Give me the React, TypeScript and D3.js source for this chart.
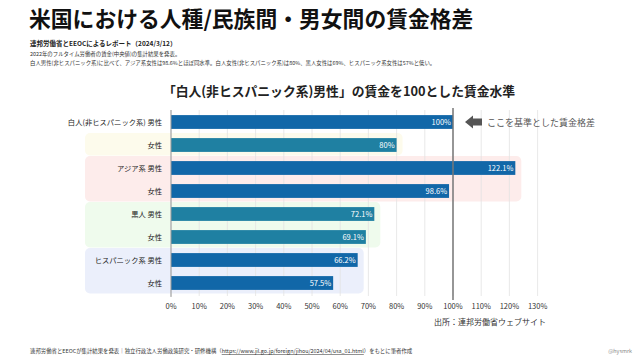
import React from "react";
import * as d3 from "d3";

const categories = [
  "白人(非ヒスパニック系) 男性",
  "女性",
  "アジア系 男性",
  "女性",
  "黒人 男性",
  "女性",
  "ヒスパニック系 男性",
  "女性",
];
const values = [100, 80, 122.1, 98.6, 72.1, 69.1, 66.2, 57.5];
const valueLabels = ["100%", "80%", "122.1%", "98.6%", "72.1%", "69.1%", "66.2%", "57.5%"];
const barColorKeys = ["blue", "teal", "blue", "blue", "teal", "teal", "blue", "blue"];
const xTicks = [0, 10, 20, 30, 40, 50, 60, 70, 80, 90, 100, 110, 120, 130];
const groupStart = [1, 2, 4, 6];
const groupEnd = [1, 3, 5, 7];
const groupColor = ["#fdfbec", "#fdeceb", "#effbed", "#ebeffb"];

const FONT = "'Noto Sans CJK JP', 'Noto Sans', sans-serif";

export default function App() {
  const W = 640, H = 360;
  const x = d3.scaleLinear().domain([0, 130]).range([171, 537.6]);
  const y = d3.scaleBand<number>().domain(d3.range(categories.length)).range([110.5, 294.5]).paddingInner(0.4).paddingOuter(0.2);
  const bw = y.bandwidth();
  const step = y.step();
  const colors: Record<string, string> = { blue: "#1167a8", teal: "#1f80a2" };

  return (
    <svg width={W} height={H} style={{ position: "fixed", left: 0, top: 0, display: "block", fontFamily: FONT }}>
      <rect width={W} height={H} fill="#fff" />
      <text x={29} y={27} fontSize={21.8} fontWeight={700} fill="#111">米国における人種/民族間・男女間の賃金格差</text>
      <text x={30} y={46} fontSize={6.5} fontWeight={700} fill="#222">連邦労働省とEEOCによるレポート（2024/3/12）</text>
      <text x={30} y={56} fontSize={5.4} fill="#333">2022年のフルタイム労働者の賃金(中央値)の集計結果を発表。</text>
      <text x={30} y={65} fontSize={5.4} fill="#333">白人男性(非ヒスパニック系)に比べて、アジア系女性は98.6%とほぼ同水準。白人女性(非ヒスパニック系)は80%、黒人女性は69%、ヒスパニック系女性は57%と低い。</text>

      <text x={339} y={96} fontSize={12.8} fontWeight={700} fill="#222" textAnchor="middle">「白人(非ヒスパニック系)男性」の賃金を100とした賃金水準</text>

      {groupStart.map((s, i) => {
        const e = groupEnd[i];
        const top = (y(s) as number) - (step - bw) / 2 - 0.5;
        const bottom = (y(e) as number) + bw + (step - bw) / 2 - 1;
        const maxV = d3.max(values.slice(s, e + 1)) as number;
        return (
          <rect key={"g" + i} x={85} y={top} width={x(maxV) + 6 - 85} height={bottom - top} rx={5} fill={groupColor[i]} />
        );
      })}

      {xTicks.map((t) => (
        <line key={"gl" + t} x1={x(t)} x2={x(t)} y1={110} y2={296} stroke="#e2e2e2" strokeWidth={0.8} />
      ))}

      {values.map((v, i) => (
        <g key={"b" + i}>
          <rect x={x(0)} y={y(i)} width={x(v) - x(0)} height={bw} fill={colors[barColorKeys[i]]} />
          <text x={x(v) - 2} y={(y(i) as number) + bw / 2 + 3} fontSize={7.5} fill="#fff" textAnchor="end">{valueLabels[i]}</text>
          <text x={162} y={(y(i) as number) + bw / 2 + 3} fontSize={7.3} fill="#222" textAnchor="end">{categories[i]}</text>
        </g>
      ))}

      <line x1={x(0)} x2={x(0)} y1={110} y2={297} stroke="#999" strokeWidth={1} />
      <line x1={x(100)} x2={x(100)} y1={108} y2={300} stroke="#777" strokeWidth={1.5} />

      {xTicks.map((t) => (
        <text key={"xt" + t} x={x(t)} y={309} fontSize={7.5} fill="#333" textAnchor="middle">{t}%</text>
      ))}

      <path d="M465,122 L473,115.5 L473,118.5 L482,118.5 L482,125.5 L473,125.5 L473,128.5 Z" fill="#555" />
      <text x={487} y={125.5} fontSize={9} fill="#555">ここを基準とした賃金格差</text>

      <text x={546} y={325} fontSize={8} fill="#333" textAnchor="end">出所：連邦労働省ウェブサイト</text>

      <text x={30} y={353} fontSize={5.4} fill="#333">
        連邦労働省とEEOCが集計結果を発表｜独立行政法人労働政策研究・研修機構（
        <tspan textDecoration="underline">https://www.jil.go.jp/foreign/jihou/2024/04/usa_01.html</tspan>
        ）をもとに筆者作成
      </text>
      <text x={632} y={353} fontSize={5.4} fill="#888" textAnchor="end">@hysmrk</text>
    </svg>
  );
}
